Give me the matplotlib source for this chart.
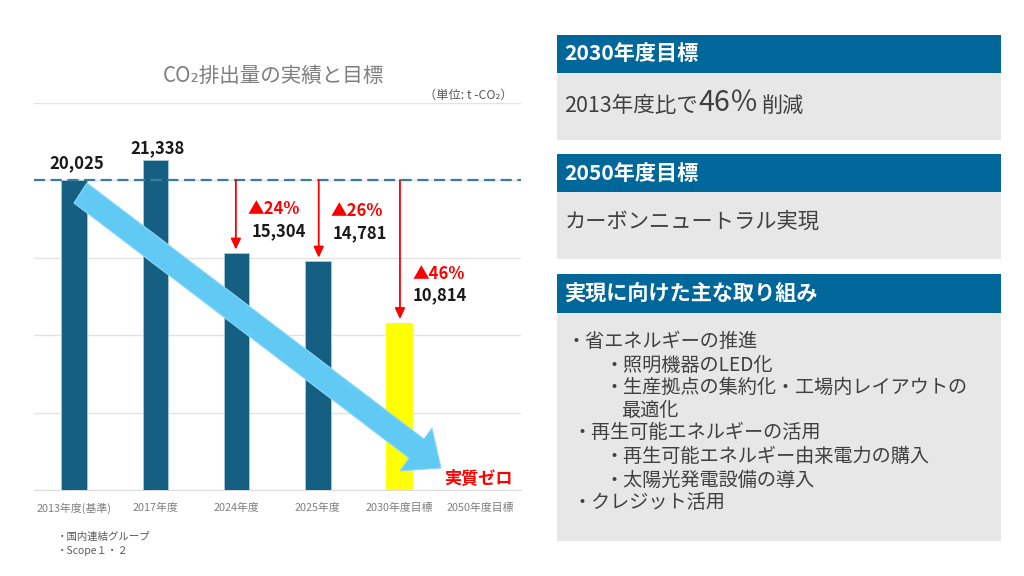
import matplotlib
matplotlib.use('Agg')
from matplotlib import pyplot as plt
from matplotlib.patches import Polygon, Rectangle

plt.rcParams['font.family'] = ['Noto Sans CJK JP', 'DejaVu Sans']

categories = ['2013年度(基準)', '2017年度', '2024年度', '2025年度', '2030年度目標', '2050年度目標']
values = [20025, 21338, 15304, 14781, 10814, 0]
bar_colors = ['#156082', '#156082', '#156082', '#156082', '#ffff00', '#156082']
bar_edges = ['#a9cbdb', '#a9cbdb', '#a9cbdb', '#a9cbdb', '#ffff00', '#a9cbdb']
reductions = ['▲24%', '▲26%', '▲46%']
reduction_idx = [2, 3, 4]

BLUE = '#00679b'
PANEL = '#e7e7e7'
TEXT = '#404040'

panels = [(35, 73, 140, '2030年度目標'),
          (154, 192, 259, '2050年度目標'),
          (274, 313, 541, '実現に向けた主な取り組み')]

bullets = [(567, 341, '・省エネルギーの推進'),
           (605, 365, '・照明機器のLED化'),
           (605, 387, '・生産拠点の集約化・工場内レイアウトの'),
           (621, 410, '最適化'),
           (572, 433, '・再生可能エネルギーの活用'),
           (605, 457, '・再生可能エネルギー由来電力の購入'),
           (605, 480, '・太陽光発電設備の導入'),
           (572, 503, '・クレジット活用')]


def main():
	fig = plt.figure(figsize=(10.24, 5.76), dpi=100)

	# chart axes, placed to sit on the reference gridlines
	ax = fig.add_axes([33.6/1024, 86/576, 487.4/1024, 387/576])
	x = list(range(len(categories)))
	ax.bar(x, values, width=0.315, color=bar_colors, edgecolor=bar_edges, linewidth=0.6, zorder=3)
	ax.set_xlim(-0.5, 5.5)
	ax.set_ylim(0, 25000)
	ax.set_yticks(range(0, 25001, 5000))
	ax.set_yticklabels([])
	ax.grid(axis='y', color='#e3e3e3', linewidth=1)
	ax.set_axisbelow(True)
	ax.tick_params(length=0)
	for s in ['top', 'left', 'right']:
		ax.spines[s].set_visible(False)
	ax.spines['bottom'].set_color('#dcdcdc')
	ax.set_xticks(x)
	ax.set_xticklabels(categories, fontsize=7.8, color='#7f7f7f')
	ax.tick_params(axis='x', pad=9)

	ax.axhline(values[0], color='#3d7d9c', linewidth=1.6, linestyle=(0, (5, 2.5)), zorder=4)

	# value labels above the first two bars
	ax.annotate(f'{values[0]:,}', (0, values[0]), xytext=(1.5, 12), textcoords='offset points',
				ha='center', va='center', fontsize=12, fontweight='bold', color='#1a1a1a')
	ax.annotate(f'{values[1]:,}', (1, values[1]), xytext=(1.5, 8), textcoords='offset points',
				ha='center', va='center', fontsize=12, fontweight='bold', color='#1a1a1a')

	# reduction arrows from the base year level
	label_pos = [(8, 31.5, 10.8, 15.8), (9.4, 36, 10.8, 20), (9.4, 35.2, 10, 20)]
	arrow_dx = [-0.01, 0.01, 0.01]
	for n, i in enumerate(reduction_idx):
		ax.annotate('', xy=(i + arrow_dx[n], values[i]), xytext=(i + arrow_dx[n], values[0]),
					arrowprops=dict(arrowstyle='-|>,head_width=0.3,head_length=0.65', color='red',
									lw=1.3, shrinkA=0, shrinkB=2.5), zorder=5)
		dx1, up, dx2, low = label_pos[n]
		ax.annotate(reductions[n], (i, values[i]), xytext=(dx1, up), textcoords='offset points',
					fontsize=12, fontweight='bold', color='red', va='center')
		ax.annotate(f'{values[i]:,}', (i, values[i]), xytext=(dx2, low), textcoords='offset points',
					fontsize=12, fontweight='bold', color='#1a1a1a', va='center')

	# pixel overlay for panels, wide arrow and free text
	ov = fig.add_axes([0, 0, 1, 1], zorder=10)
	ov.set_xlim(0, 1024)
	ov.set_ylim(576, 0)
	ov.axis('off')
	ov.patch.set_alpha(0)

	ov.add_patch(Polygon([(87, 183), (424, 439), (432, 428), (441, 468), (400, 471), (409, 458), (74, 203)],
						 closed=True, facecolor='#61caf4', edgecolor='#8fd8f5', linewidth=0.8))
	ov.text(478, 478, '実質ゼロ', ha='center', va='center', fontsize=12.3, fontweight='bold', color='red')

	ov.text(273, 76, 'CO₂排出量の実績と目標', ha='center', va='center', fontsize=14.8, color='#7f7f7f')
	ov.text(468, 95, '（単位: t -CO₂）', ha='center', va='center', fontsize=8.8, color='#595959')
	ov.text(57, 537, '・国内連結グループ', va='center', fontsize=7.5, color='#595959')
	ov.text(57, 551, '・Scope１・２', va='center', fontsize=7.5, color='#595959')

	for top, mid, bottom, title in panels:
		ov.add_patch(Rectangle((557, mid), 444, bottom - mid, facecolor=PANEL, edgecolor='none'))
		ov.add_patch(Rectangle((557, top), 444, mid - top, facecolor=BLUE, edgecolor='none'))
		ov.text(564, (top + mid)/2, title, va='center', fontsize=15.2, fontweight='bold', color='white')

	ov.text(564, 106, '2013年度比で', va='center', fontsize=15.5, color=TEXT)
	ov.text(698, 103, '46％', va='center', fontsize=20.5, color=TEXT)
	ov.text(762, 106, '削減', va='center', fontsize=15.2, color=TEXT)
	ov.text(565, 222, 'カーボンニュートラル実現', va='center', fontsize=15.3, color=TEXT)

	for bx, by, line in bullets:
		ov.text(bx, by, line, va='center', fontsize=13.8, color=TEXT)

	fig.savefig('out.png', dpi=100)


if __name__ == '__main__':
	main()
